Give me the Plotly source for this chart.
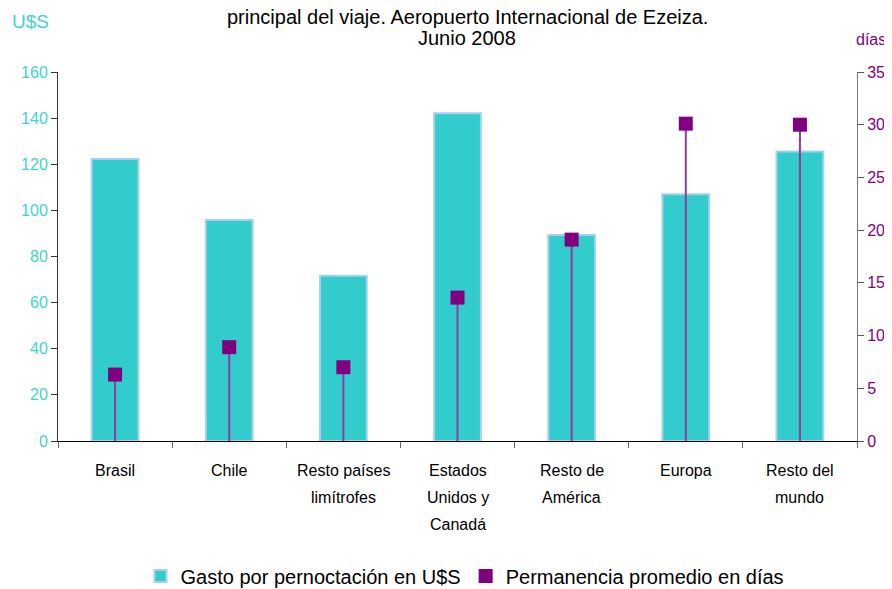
import plotly.graph_objects as go

categories = ["Brasil", "Chile", "Resto países<br>limítrofes", "Estados<br>Unidos y<br>Canadá",
              "Resto de<br>América", "Europa", "Resto del<br>mundo"]
gasto_usd = [122.3, 95.8, 71.7, 142.1, 89.3, 107.0, 125.5]
permanencia_dias = [6.3, 8.9, 7.0, 13.6, 19.1, 30.1, 30.0]
zeros = [0] * len(permanencia_dias)

title_line1 = "principal del viaje. Aeropuerto Internacional de Ezeiza."
title_line2 = "Junio 2008"

TURQ = "#33CCCC"
TURQ_TXT = "#3ED3D3"
PURPLE = "#800080"
FONT = "Liberation Sans, Arial, sans-serif"

# the page body has an 8px margin, so the figure sits at (8, 8) in the 892x589 window
OFF = 8
W, H = 892, 589
PL, PR, PT, PB = 58, 857, 72, 441  # plot area in window pixels
PW, PH = PR - PL, PB - PT


def py(win_y):
    return (PB - win_y) / PH


def px(win_x):
    return (win_x - PL) / PW


fig = go.Figure()
fig.add_trace(go.Bar(
    x=categories, y=gasto_usd, name="Gasto por pernoctación en U$S",
    marker=dict(color=TURQ, line=dict(color="#A6CFF5", width=2)),
    width=0.41, yaxis="y",
))
fig.add_trace(go.Scatter(
    x=categories, y=permanencia_dias, name="Permanencia promedio en días",
    mode="markers", yaxis="y2",
    marker=dict(symbol="square", size=14, color=PURPLE),
    error_y=dict(type="data", symmetric=False, array=zeros, arrayminus=permanencia_dias,
                 color="#8E3C9E", thickness=2, width=0),
))

annotations = [
    dict(text=title_line1, xref="paper", yref="paper", x=px(467), y=py(17),
         xanchor="center", yanchor="middle", showarrow=False, font=dict(size=20)),
    dict(text=title_line2, xref="paper", yref="paper", x=px(467), y=py(38),
         xanchor="center", yanchor="middle", showarrow=False, font=dict(size=20)),
    dict(text="U$S", xref="paper", yref="paper", x=px(30), y=py(22),
         xanchor="center", yanchor="middle", showarrow=False,
         font=dict(size=19, color=TURQ_TXT)),
    dict(text="días", xref="paper", yref="paper", x=px(871), y=py(40),
         xanchor="center", yanchor="middle", showarrow=False,
         font=dict(size=16, color=PURPLE)),
]
# category labels, one annotation per text line (27px line spacing as in reference)
for cat in categories:
    for i, line in enumerate(cat.split("<br>")):
        annotations.append(dict(
            text=line, x=cat, xref="x", yref="paper", y=py(470 + 27 * i),
            xanchor="center", yanchor="middle", showarrow=False,
            font=dict(size=16, color="black")))

fig.update_layout(
    width=W - OFF, height=H - OFF,
    margin=dict(l=PL - OFF, r=W - PR, t=PT - OFF, b=H - PB, autoexpand=False),
    paper_bgcolor="white", plot_bgcolor="white",
    font=dict(family=FONT, size=16, color="black"),
    bargap=0.59,
    showlegend=True,
    legend=dict(orientation="h", x=px(465), xanchor="center", y=py(576), yanchor="middle",
                font=dict(size=20), itemwidth=30, tracegroupgap=0),
    xaxis=dict(showline=True, linecolor="black", linewidth=1, ticks="outside",
               tickson="boundaries", ticklen=6, tickcolor="#666666",
               showticklabels=False, showgrid=False, automargin=False),
    yaxis=dict(range=[0, 160], dtick=20, showline=True, linecolor="#333333", linewidth=1,
               ticks="outside", ticklen=6, tickcolor="#333333", showgrid=False, zeroline=False,
               tickfont=dict(size=16, color=TURQ_TXT), automargin=False),
    yaxis2=dict(range=[0, 35], dtick=5, overlaying="y", side="right", showline=True,
                linecolor="#777777", linewidth=1, ticks="outside", ticklen=6,
                tickcolor="#555555", showgrid=False, zeroline=False,
                tickfont=dict(size=16, color=PURPLE), automargin=False),
    annotations=annotations,
)

fig.write_html("out.html")
